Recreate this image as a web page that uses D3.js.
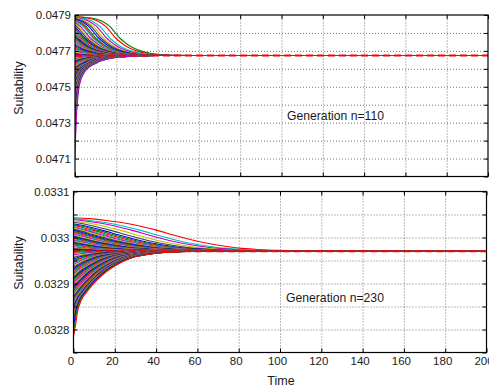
<!DOCTYPE html>
<html>
<head>
<meta charset="utf-8">
<script src="https://cdn.jsdelivr.net/npm/d3@7"></script>
<style>
  body { margin: 0; background: #fff; }
  svg { display: block; }
  text { font-family: "Liberation Sans", Arial, sans-serif; fill: #1a1a1a; }
</style>
</head>
<body>
<svg id="chart" width="489" height="387"></svg>
<script>
// time axis
const timeTicks = [0, 20, 40, 60, 80, 100, 120, 140, 160, 180, 200];
const timeLabels = ["0", "20", "40", "60", "80", "100", "120", "140", "160", "180", "200"];

// y grid / labels
const topYTicks = [0.0470, 0.0471, 0.0472, 0.0473, 0.0474, 0.0475, 0.0476, 0.0477, 0.0478, 0.0479];
const topYLabels = ["0.0471", "0.0473", "0.0475", "0.0477", "0.0479"];
const bottomYTicks = [0.03275, 0.0328, 0.03285, 0.0329, 0.03295, 0.0330, 0.03305, 0.0331];
const bottomYLabels = ["0.0328", "0.0329", "0.033", "0.0331"];

// equilibrium (red dashed)
const topEquilibrium = 0.047674;
const bottomEquilibrium = 0.03297;

// trajectories: [time, suitability]
const topUpperPath = [[0,0.04789],[4,0.047888],[8,0.047883],[11,0.047875],[14,0.04786],[17,0.047835],
  [19,0.047808],[21,0.04778],[23,0.047758],[25,0.04774],[27,0.047725],[30,0.047708],[33,0.047696],
  [36,0.047688],[40,0.047681],[45,0.047677],[52,0.047675],[60,0.047674],[400,0.047674]];
const topLowerPath = [[0,0.0471],[0.3,0.04722],[0.6,0.04731],[1,0.04739],[1.5,0.047455],[2,0.0475],
  [3,0.047545],[4,0.04757],[5,0.047588],[6.5,0.047605],[8,0.047618],[10,0.04763],[12,0.047642],
  [15,0.047653],[18,0.04766],[22,0.047666],[27,0.04767],[33,0.047673],[40,0.047674],[400,0.047674]];
const bottomUpperPath = [[0,0.033043],[8,0.033041],[16,0.033037],[24,0.033032],[32,0.033025],
  [40,0.033016],[48,0.033006],[56,0.032996],[64,0.032988],[72,0.032982],[80,0.032977],[90,0.032974],
  [100,0.032972],[115,0.03297],[400,0.03297]];
const bottomLowerPath = [[0,0.032785],[1,0.03281],[2,0.03284],[3,0.032855],[4.5,0.03287],[6.5,0.032882],
  [9,0.032896],[12,0.03291],[16,0.032926],[20,0.032938],[25,0.03295],[30,0.032958],[36,0.032963],
  [43,0.032967],[52,0.032969],[62,0.03297],[400,0.03297]];

// starting suitability of each individual
const topStarts = [0.04789, 0.047889, 0.047887, 0.047885, 0.047883, 0.04788, 0.047877, 0.047872,
  0.047868, 0.047865, 0.047858, 0.04785, 0.047843, 0.047835,
  0.047828, 0.04782, 0.047812, 0.047805, 0.047797, 0.04779, 0.047782, 0.047775, 0.047768, 0.04776,
  0.047752, 0.047745, 0.047738, 0.04773, 0.047722, 0.047715, 0.047708, 0.0477, 0.047693, 0.047686,
  0.04768, 0.04767, 0.047665, 0.04766, 0.047655, 0.04765, 0.047645, 0.04764, 0.047635, 0.04763,
  0.047625, 0.04762, 0.047614, 0.047608, 0.047602, 0.047596, 0.04759, 0.047584, 0.047578, 0.047572,
  0.047566, 0.04756, 0.047553, 0.047546, 0.04754, 0.047532, 0.047525, 0.047517, 0.04751, 0.0475,
  0.04749, 0.04748, 0.04747, 0.04746, 0.04745, 0.04744, 0.04743, 0.04742, 0.0474, 0.04738, 0.04736,
  0.04733, 0.0473, 0.04726, 0.04722, 0.04716, 0.0471];
const bottomStarts = [0.033043, 0.033041, 0.033039, 0.033036, 0.033033, 0.03303, 0.033028, 0.033026,
  0.033024, 0.033022, 0.03302, 0.033018, 0.033016, 0.033014, 0.033012, 0.03301, 0.033008, 0.033006,
  0.033004, 0.033002, 0.033, 0.032998, 0.032996, 0.032994, 0.032992, 0.03299, 0.032988, 0.032986,
  0.032984, 0.032982, 0.03298, 0.032978, 0.032976, 0.032974, 0.032972, 0.032968, 0.032965, 0.032962,
  0.032959, 0.032956, 0.032953, 0.03295, 0.032947, 0.032944, 0.032941, 0.032938, 0.032935, 0.032932,
  0.032929, 0.032926, 0.032923, 0.03292, 0.032917, 0.032914, 0.032911, 0.032908, 0.032905, 0.032902,
  0.032899, 0.032896, 0.032893, 0.03289, 0.032887, 0.032884, 0.032881, 0.032878, 0.032875, 0.032872,
  0.032869, 0.032866, 0.032863, 0.03286, 0.032856, 0.032852, 0.032848, 0.032844, 0.03284, 0.032835,
  0.03283, 0.032824, 0.032818, 0.032812, 0.032805, 0.032796, 0.032785];

const lineColors = ["#0000ff", "#008000", "#ff0000", "#00bfbf", "#bf00bf", "#bfbf00", "#404040"];

const svg = d3.select("#chart");

// shift the reference trajectory so that it starts at s
function trajectory(path, s) {
  const up = path[0][1] > path[path.length - 1][1];
  let shift = 0;
  for (let i = 0; i < path.length - 1; i++) {
    const a = path[i][1], b = path[i + 1][1];
    if ((up && s <= a && s >= b) || (!up && s >= a && s <= b)) {
      shift = a === b ? path[i][0] : path[i][0] + (s - a) / (b - a) * (path[i + 1][0] - path[i][0]);
      break;
    }
  }
  return [[0, s]].concat(path.filter(p => p[0] > shift + 0.05).map(p => [p[0] - shift, p[1]]));
}

function drawPanel(cfg) {
  const x = d3.scaleLinear().domain([0, 200]).range([cfg.left, cfg.right]);
  const y = d3.scaleLinear().domain(cfg.domain).range([cfg.bottom, cfg.top]);
  const h = cfg.bottom - cfg.top, w = cfg.right - cfg.left;
  const g = svg.append("g");

  // grid
  g.append("g").attr("class", "grid")
    .attr("transform", "translate(0," + cfg.bottom + ")")
    .call(d3.axisBottom(x).tickValues(timeTicks.slice(1, -1)).tickSize(-h).tickFormat(""));
  g.append("g").attr("class", "grid")
    .attr("transform", "translate(" + cfg.left + ",0)")
    .call(d3.axisLeft(y).tickValues(cfg.ticks.slice(1, -1)).tickSize(-w).tickFormat(""));
  g.selectAll(".grid .domain").remove();
  g.selectAll(".grid line").attr("stroke", "#555").attr("stroke-width", 1)
    .attr("stroke-dasharray", "1,2").attr("opacity", 0.8);

  // curves
  const clipId = "clip" + cfg.id;
  svg.append("clipPath").attr("id", clipId).append("rect")
    .attr("x", cfg.left).attr("y", cfg.top).attr("width", w).attr("height", h);
  const line = d3.line().x(d => x(d[0])).y(d => y(d[1])).curve(d3.curveMonotoneX);
  const curves = g.append("g").attr("clip-path", "url(#" + clipId + ")");
  cfg.starts.forEach((s, i) => {
    const path = s >= cfg.eq ? cfg.upper : cfg.lower;
    curves.append("path")
      .attr("d", line(trajectory(path, s)))
      .attr("fill", "none")
      .attr("stroke", lineColors[(i + cfg.colorShift) % lineColors.length])
      .attr("stroke-width", 1.1);
  });
  curves.append("path")
    .attr("d", line([[0, cfg.eq], [200, cfg.eq]]))
    .attr("fill", "none").attr("stroke", "#ff0000").attr("stroke-width", 2)
    .attr("stroke-dasharray", "7,4");

  // axes with inward ticks on all sides
  const tl = 4;
  g.append("g").attr("transform", "translate(0," + cfg.bottom + ")")
    .call(d3.axisBottom(x).tickValues(timeTicks).tickSizeInner(-tl).tickSizeOuter(0)
      .tickFormat((d, i) => cfg.xLabels ? timeLabels[i] : ""))
    .call(a => a.selectAll("text").attr("dy", null).attr("y", 12.5).attr("dx", -3).attr("font-size", 11.5));
  g.append("g").attr("transform", "translate(0," + cfg.top + ")")
    .call(d3.axisTop(x).tickValues(timeTicks).tickSizeInner(-tl).tickSizeOuter(0).tickFormat(""));
  g.append("g").attr("transform", "translate(" + cfg.left + ",0)")
    .call(d3.axisLeft(y).tickValues(cfg.ticks).tickSizeInner(-tl).tickSizeOuter(0)
      .tickFormat(d => { const k = cfg.labels.find(l => Math.abs(+l - d) < 1e-9); return k || ""; }))
    .call(a => a.selectAll("text").attr("x", -4).attr("font-size", 11.5));
  g.append("g").attr("transform", "translate(" + cfg.right + ",0)")
    .call(d3.axisRight(y).tickValues(cfg.ticks).tickSizeInner(-tl).tickSizeOuter(0).tickFormat(""));
  g.selectAll(".tick line").filter(function () { return !this.closest(".grid"); })
    .attr("stroke", "#000");
  g.selectAll(".domain").attr("stroke", "none");
  g.selectAll(".tick text").attr("fill", "#1a1a1a").attr("font-family", "Liberation Sans, Arial, sans-serif");

  g.append("rect").attr("x", cfg.left).attr("y", cfg.top).attr("width", w).attr("height", h)
    .attr("fill", "none").attr("stroke", "#000").attr("stroke-width", 1.2);

  g.append("text").attr("transform", "translate(" + cfg.ylabX + "," + cfg.ylabY + ") rotate(-90)")
    .attr("text-anchor", "middle").attr("font-size", 12.5).text("Suitability");
  g.append("text").attr("x", cfg.noteX).attr("y", cfg.noteY).attr("font-size", 12.2).text(cfg.note);
}

drawPanel({
  id: "top", left: 75, right: 488, top: 15, bottom: 176.5,
  domain: [0.0470, 0.0479], ticks: topYTicks, labels: topYLabels,
  eq: topEquilibrium, upper: topUpperPath, lower: topLowerPath, starts: topStarts, colorShift: 1,
  xLabels: false, ylabX: 23, ylabY: 88, note: "Generation n=110", noteX: 287, noteY: 120
});
drawPanel({
  id: "bottom", left: 73.5, right: 486.5, top: 191.5, bottom: 352.5,
  domain: [0.03275, 0.0331], ticks: bottomYTicks, labels: bottomYLabels,
  eq: bottomEquilibrium, upper: bottomUpperPath, lower: bottomLowerPath, starts: bottomStarts, colorShift: 2,
  xLabels: true, ylabX: 23, ylabY: 263, note: "Generation n=230", noteX: 286, noteY: 302
});

svg.append("text").attr("x", 281).attr("y", 385).attr("text-anchor", "middle")
  .attr("font-size", 12.5).text("Time");
</script>
</body>
</html>
